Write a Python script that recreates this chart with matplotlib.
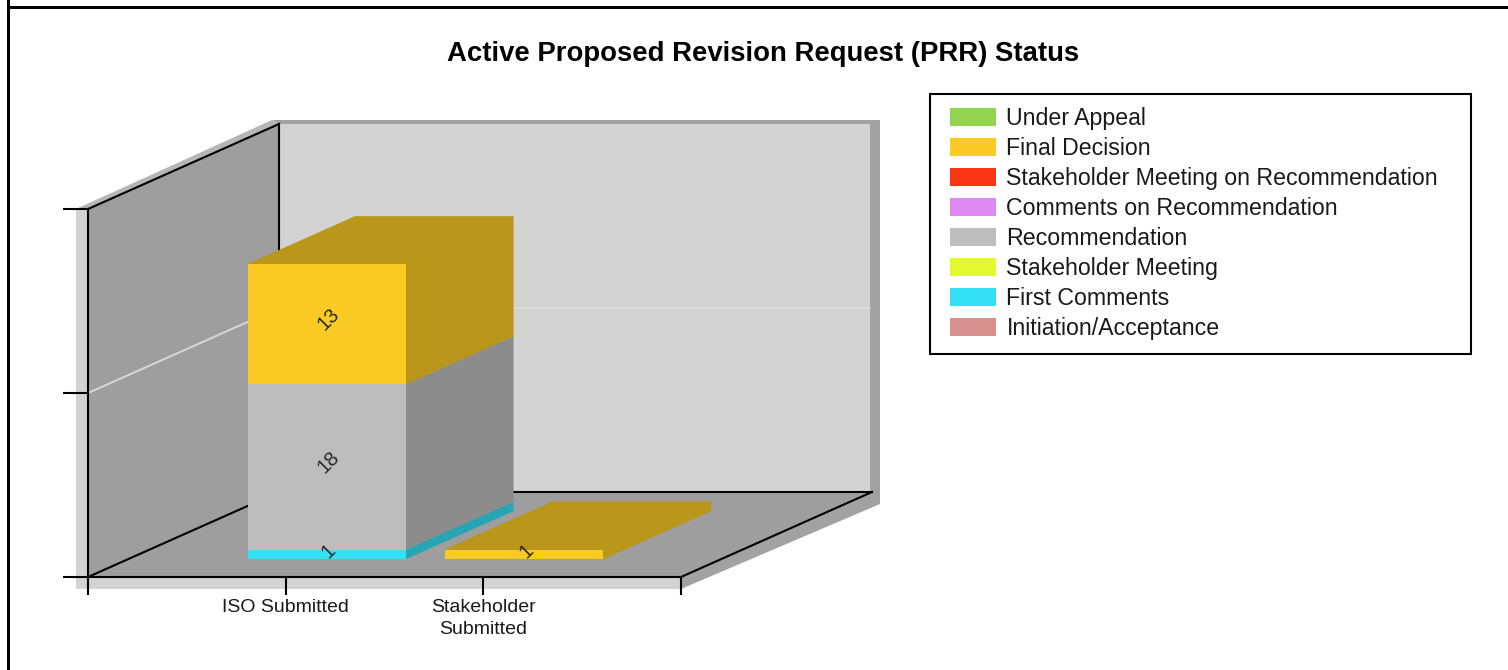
import matplotlib
matplotlib.use('Agg')
from matplotlib import pyplot as plt
from matplotlib.colors import to_rgb
from matplotlib.patches import Patch, Polygon, Rectangle

plt.rcParams['font.family'] = ['Liberation Sans', 'DejaVu Sans']

categories = ['ISO Submitted', 'Stakeholder\nSubmitted']
stages = ['Initiation/Acceptance', 'First Comments', 'Stakeholder Meeting', 'Recommendation',
          'Comments on Recommendation', 'Stakeholder Meeting on Recommendation',
          'Final Decision', 'Under Appeal']
stage_colors = ['#D79290', '#33E0F5', '#E2F92E', '#BDBDBD', '#DF8AF0', '#FB3616', '#FBCB25', '#92D34F']
iso_counts = [0, 1, 0, 18, 0, 0, 13, 0]
stakeholder_counts = [0, 0, 0, 0, 0, 0, 1, 0]
y_ticks = [0, 20, 40]

W, H = 1508, 670
fig = plt.figure(figsize=(W / 100, H / 100), dpi=100)
ax = fig.add_axes([88 / W, (H - 577) / H, 593 / W, 368 / H])
ax.set_xlim(0, 3)
ax.set_ylim(0, 40)
ax.patch.set_visible(False)

# size of one pixel in data units, and the oblique depth shift of the floor
ux = 3 / 593
uy = 40 / 368
DX = 191 * ux
DY = 85 * uy


def pt(x, v, d=0.0):
    return (x + d * DX, v + d * DY)


def poly(points, color, z, lw=0):
    ax.add_patch(Polygon(points, closed=True, fc=color, ec=color if lw else 'none', lw=lw,
                         clip_on=False, zorder=z))


def dark(color, k=0.74):
    return tuple(c * k for c in to_rgb(color))


# outer bevel round the box
poly([pt(-12 * ux, 40), pt(-7 * ux, 40 + 4 * uy, 1), pt(0, 40, 1), pt(0, 40)], '#B6B6B6', 0.5)
poly([pt(-7 * ux, 40 + 4 * uy, 1), pt(3 + 8 * ux, 40 + 4 * uy, 1),
      pt(3 + 8 * ux, -12 * uy, 1), pt(3, -12 * uy), pt(3, 0), pt(0, 40, 1)], '#A2A2A2', 0.5)
poly([pt(-12 * ux, 40), pt(0, 40), pt(0, 0), pt(3, 0), pt(3, -12 * uy), pt(-12 * ux, -12 * uy)], '#D3D3D3', 0.6)

# walls and floor
poly([pt(0, 0, 1), pt(0, 40, 1), pt(3 - 2 * ux, 40, 1), pt(3 - 2 * ux, 0, 1)], '#D3D3D3', 1)
poly([pt(0, 0), pt(0, 40), pt(0, 40, 1), pt(0, 0, 1)], '#9E9E9E', 1)
poly([pt(0, 0), pt(3, 0), pt(3, 0, 1), pt(0, 0, 1)], '#9E9E9E', 1)

for v in y_ticks[1:-1]:
    ax.plot(*zip(pt(0, v), pt(0, v, 1)), color='#D8D8D8', lw=1.4, clip_on=False, zorder=1.5)
    ax.plot(*zip(pt(0, v, 1), pt(3 - 2 * ux, v, 1)), color='#DEDEDE', lw=1.2, clip_on=False, zorder=1.5)

# black frame lines
for a, b in [(pt(0, 0), pt(0, 0, 1)), (pt(0, 40), pt(0, 40, 1)), (pt(0, 0, 1), pt(0, 40, 1)),
             (pt(0, 0, 1), pt(3, 0, 1)), (pt(3, 0), pt(3, 0, 1))]:
    ax.plot(*zip(a, b), color='black', lw=1.5, clip_on=False, zorder=2)

ax.spines[['top', 'right']].set_visible(False)
ax.spines[['left', 'bottom']].set_linewidth(1.5)
ax.spines[['left', 'bottom']].set_zorder(2)
ax.set_yticks(y_ticks, [''] * len(y_ticks))
ax.set_xticks(range(4), [''] + categories + [''])
ax.tick_params(axis='y', length=18, width=1.5, pad=0)
ax.tick_params(axis='x', length=13, width=1.5, pad=2.5, labelsize=14, labelcolor='#1A1A1A')
for t in ax.get_xticklabels():
    t.set_linespacing(1.45)

# stacked bars: front faces through ax.bar, sides projected back
bar_w = 0.8
d0 = 0.215
d1 = 0.777
z = 3
for i, counts in enumerate([iso_counts, stakeholder_counts]):
    xc = i + 1 + d0 * DX
    xl, xr = xc - bar_w / 2, xc + bar_w / 2
    base = d0 * DY
    bottom = 0
    top_color = None
    for n, color in zip(counts, stage_colors):
        if n == 0:
            continue
        y0 = bottom
        y1 = bottom + n
        poly([(xr, base + y0), (xr, base + y1), (xr + (d1 - d0) * DX, base + y1 + (d1 - d0) * DY),
              (xr + (d1 - d0) * DX, base + y0 + (d1 - d0) * DY)], dark(color), z, lw=0.5)
        ax.bar(xc, n, width=bar_w, bottom=base + y0, color=color, clip_on=False, zorder=z + 0.1)
        ax.annotate(str(n), (xc, base + (y0 + y1) / 2), xytext=(1.5, 2 if n == 1 else 3.5),
                    textcoords='offset points', ha='center', va='center', rotation=45, fontsize=14.5,
                    color='#2A2A2A', annotation_clip=False, zorder=z + 5)
        bottom = y1
        top_color = color
    poly([(xl, base + bottom), (xr, base + bottom), (xr + (d1 - d0) * DX, base + bottom + (d1 - d0) * DY),
          (xl + (d1 - d0) * DX, base + bottom + (d1 - d0) * DY)], dark(top_color), z, lw=0.5)

fig.text(763.5 / W, 1 - 54 / H, 'Active Proposed Revision Request (PRR) Status', ha='center', va='center',
         fontsize=19.85, fontweight='bold', color='black')

# legend, top stage first
fig.add_artist(Rectangle((930 / W, 1 - 354 / H), 541 / W, 260 / H, transform=fig.transFigure,
                         fc='white', ec='black', lw=1.5))
handles = [Patch(fc=c, ec='none', label=s) for s, c in zip(stages[::-1], stage_colors[::-1])]
leg = fig.legend(handles=handles, loc='upper left', bbox_to_anchor=(950 / W, 1 - 107.5 / H), frameon=False,
                 fontsize=16.65, borderpad=0, borderaxespad=0, handlelength=2.0, handleheight=0.82,
                 handletextpad=0.44, labelspacing=0.30)
for t in leg.get_texts():
    t.set_color('#1A1A1A')

# heavy page border, left and top only
fig.add_artist(Rectangle((7 / W, 0), 3 / W, 1, transform=fig.transFigure, fc='black', ec='none'))
fig.add_artist(Rectangle((7 / W, 1 - 9 / H), 1 - 7 / W, 3 / H, transform=fig.transFigure, fc='black', ec='none'))

plt.savefig('out.png', dpi=100)
